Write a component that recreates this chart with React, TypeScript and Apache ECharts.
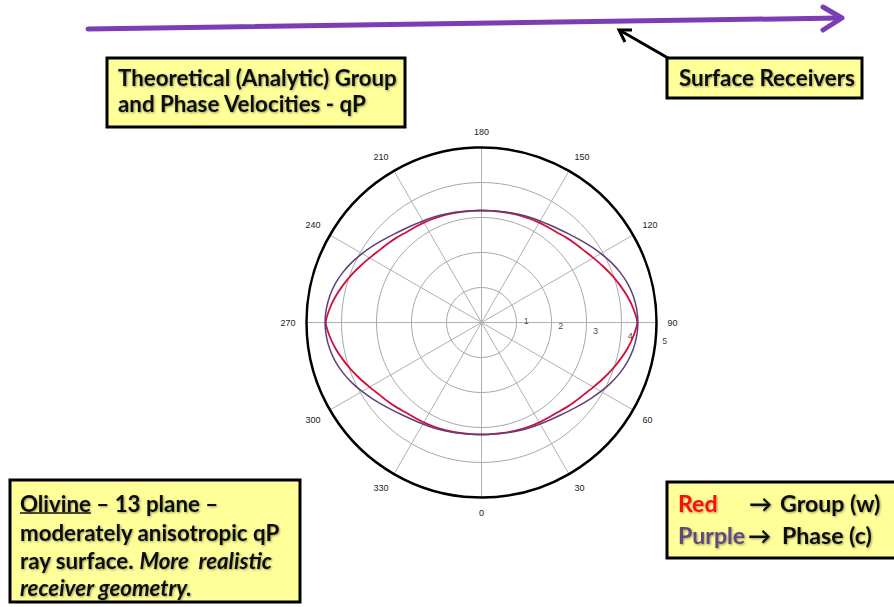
import React, { useEffect, useRef } from "react";
import * as echarts from "echarts";

// Angle-axis tick labels (degrees) and radial tick labels (velocity units)
const angleTicks = [0, 30, 60, 90, 120, 150, 180, 210, 240, 270, 300, 330];
const radialTicks = [1, 2, 3, 4, 5];
// Radial labels sit along this bearing, just past each ring
const radialLabelAngle = 82;

// One quadrant of the surfaces: angle from the vertical symmetry axis (deg)
const quadrantAngles = [0, 5, 10, 15, 20, 25, 30, 35, 40, 45, 50, 55, 60, 65, 70, 75, 80, 85, 90];
// qP group velocity w (red) and phase velocity c (purple)
const groupVelocity = [3.2, 3.2, 3.21, 3.23, 3.25, 3.27, 3.295, 3.32, 3.36, 3.43, 3.5, 3.58, 3.69, 3.82, 3.96, 4.1, 4.24, 4.36, 4.45];
const phaseVelocity = [3.2, 3.205, 3.22, 3.245, 3.275, 3.31, 3.35, 3.4, 3.47, 3.56, 3.67, 3.8, 3.94, 4.08, 4.21, 4.32, 4.4, 4.45, 4.47];

// The 13-plane surfaces are symmetric about both axes: mirror the quadrant
// into a closed loop of [radius, angle] pairs running 0 -> 360.
function fullLoop(values: number[]): number[][] {
  const n = quadrantAngles.length;
  const pts: number[][] = [];
  for (let i = 0; i < n; i++) pts.push([values[i], quadrantAngles[i]]);
  for (let i = n - 2; i >= 0; i--) pts.push([values[i], 180 - quadrantAngles[i]]);
  for (let i = 1; i < n; i++) pts.push([values[i], 180 + quadrantAngles[i]]);
  for (let i = n - 2; i >= 0; i--) pts.push([values[i], 360 - quadrantAngles[i]]);
  return pts;
}

const FONT = "Lato";
const BOX_FILL = "#ffff99";
const INK = "#111";

function textWidth(str: string, font: string): number {
  const ctx = document.createElement("canvas").getContext("2d");
  if (!ctx) return str.length * 9;
  ctx.font = font;
  return ctx.measureText(str).width;
}

// font size at which `text` spans `width` pixels
function fitSize(text: string, width: number, style = "bold"): number {
  const w = textWidth(text, `${style} 100px ${FONT}`);
  return w > 0 ? (100 * width) / w : 18;
}

const shadow = {
  textShadowColor: "rgba(0,0,0,0.4)",
  textShadowBlur: 2,
  textShadowOffsetX: 1,
  textShadowOffsetY: 1,
};

function box(x: number, y: number, w: number, h: number) {
  return {
    type: "rect",
    shape: { x, y, width: w, height: h },
    style: { fill: BOX_FILL, stroke: "#000", lineWidth: 3 },
    z: 10,
  };
}

function label(text: string, x: number, y: number, size: number, fill = INK, extra: any = {}) {
  return {
    type: "text",
    z: 11,
    style: {
      text,
      x,
      y,
      fill,
      fontFamily: FONT,
      fontWeight: "bold",
      fontSize: size,
      verticalAlign: "middle",
      align: "left",
      ...shadow,
      ...extra,
    },
  };
}

export default function App() {
  const ref = useRef<HTMLDivElement>(null);

  useEffect(() => {
    if (!ref.current) return;
    const chart = echarts.init(ref.current, null, { renderer: "svg" });

    const titleSize = fitSize("Theoretical (Analytic) Group", 279);
    const recvSize = fitSize("Surface Receivers", 176);
    const noteSize = fitSize("moderately anisotropic qP", 260);
    const keySize = (fitSize("Purple", 62) + fitSize("Group (w)", 108)) / 2;
    const olivineW = textWidth("Olivine", `bold ${noteSize}px ${FONT}`);
    const purpleW = textWidth("Purple", `bold ${keySize}px ${FONT}`);
    const arrowW = textWidth("→", `bold ${keySize}px ${FONT}`);
    // key rows: colour word, arrow, meaning
    const arrow1X = 749;
    const arrow2X = Math.max(742, 678 + purpleW + 3);
    const group1X = Math.max(780, arrow1X + arrowW + 8);
    const phase2X = Math.max(782, arrow2X + arrowW + 8);

    const richNote = (italic: boolean) => ({
      fontFamily: FONT,
      fontWeight: "bold",
      fontStyle: italic ? "italic" : "normal",
      fontSize: noteSize,
      fill: INK,
      ...shadow,
    });

    const option: any = {
      animation: false,
      backgroundColor: "#fff",
      polar: { center: [481.5, 322.5], radius: 175 },
      angleAxis: {
        type: "value",
        min: 0,
        max: 360,
        interval: 30,
        startAngle: 270,
        clockwise: false,
        z: 3,
        axisLine: { show: true, lineStyle: { color: "#000", width: 2.5 } },
        axisTick: { show: false },
        axisLabel: {
          margin: 11,
          fontSize: 9,
          color: "#222",
          fontFamily: "Liberation Sans, Arial, sans-serif",
          formatter: (v: number) => (angleTicks.includes(v) ? String(v) : ""),
        },
        splitLine: { show: true, lineStyle: { color: "#b0b0b0", width: 1 } },
      },
      radiusAxis: {
        type: "value",
        min: 0,
        max: radialTicks[radialTicks.length - 1],
        interval: 1,
        z: 1,
        axisLine: { show: false },
        axisTick: { show: false },
        axisLabel: { show: false },
        splitLine: { show: true, lineStyle: { color: "#a8a8a8", width: 1 } },
      },
      series: [
        {
          name: "Group (w)",
          type: "line",
          coordinateSystem: "polar",
          data: fullLoop(groupVelocity),
          showSymbol: false,
          smooth: 0.25,
          lineStyle: { color: "#d0103a", width: 1.8 },
          z: 4,
        },
        {
          name: "Phase (c)",
          type: "line",
          coordinateSystem: "polar",
          data: fullLoop(phaseVelocity),
          showSymbol: false,
          smooth: 0.25,
          lineStyle: { color: "#5f3f7a", width: 1.5 },
          z: 5,
        },
        {
          name: "radial labels",
          type: "scatter",
          coordinateSystem: "polar",
          data: radialTicks.map((v) => [v, radialLabelAngle]),
          symbolSize: 1,
          itemStyle: { color: "rgba(0,0,0,0)" },
          silent: true,
          z: 6,
          label: {
            show: true,
            position: "inside",
            offset: [10, -6],
            formatter: (p: any) => String(p.value[0]),
            fontSize: 9,
            color: "#111",
            fontFamily: "Liberation Sans, Arial, sans-serif",
          },
        },
      ],
      graphic: [
        // surface receiver line
        {
          type: "line",
          shape: { x1: 88, y1: 29, x2: 840, y2: 18 },
          style: { stroke: "#7b3db3", lineWidth: 5, lineCap: "round" },
        },
        {
          type: "polyline",
          shape: { points: [[823, 7], [842, 18], [823, 30]] },
          style: { stroke: "#7b3db3", lineWidth: 5, lineCap: "round", lineJoin: "round", fill: null },
        },
        // pointer to the receivers
        {
          type: "line",
          shape: { x1: 668, y1: 58, x2: 621, y2: 31 },
          style: { stroke: "#000", lineWidth: 3 },
        },
        {
          type: "polyline",
          shape: { points: [[632, 30], [619, 30], [625, 42]] },
          style: { stroke: "#000", lineWidth: 3, lineJoin: "miter", fill: null },
        },
        box(107, 58, 298, 69),
        label("Theoretical (Analytic) Group", 118, 77, titleSize),
        label("and Phase Velocities - qP", 118, 103, titleSize),
        box(667, 58, 195, 40),
        label("Surface Receivers", 679, 77.5, recvSize),
        box(10, 480, 290, 122),
        {
          type: "text",
          z: 11,
          style: {
            text: "{n|Olivine}{n| – 13 plane –}",
            x: 20,
            y: 503,
            verticalAlign: "middle",
            rich: { n: richNote(false) },
          },
        },
        {
          type: "line",
          z: 11,
          shape: { x1: 20, y1: 513, x2: 20 + olivineW, y2: 513 },
          style: { stroke: INK, lineWidth: 1.5 },
        },
        label("moderately anisotropic qP", 20, 532, noteSize),
        {
          type: "text",
          z: 11,
          style: {
            text: "{n|ray surface. }{i|More  realistic}",
            x: 20,
            y: 560,
            verticalAlign: "middle",
            rich: { n: richNote(false), i: richNote(true) },
          },
        },
        label("receiver geometry.", 20, 587, noteSize, INK, { fontStyle: "italic" }),
        box(667, 482, 240, 76),
        label("Red", 678, 503, keySize, "#ff1010"),
        label("→", arrow1X, 503, keySize),
        label("Group (w)", group1X, 503, keySize),
        label("Purple", 678, 535, keySize, "#604a7b"),
        label("→", arrow2X, 535, keySize),
        label("Phase (c)", phase2X, 535, keySize),
      ],
    };

    chart.setOption(option);
    return () => chart.dispose();
  }, []);

  return (
    <div
      ref={ref}
      style={{ position: "fixed", left: 0, top: 0, width: 894, height: 607, background: "#fff" }}
    />
  );
}
